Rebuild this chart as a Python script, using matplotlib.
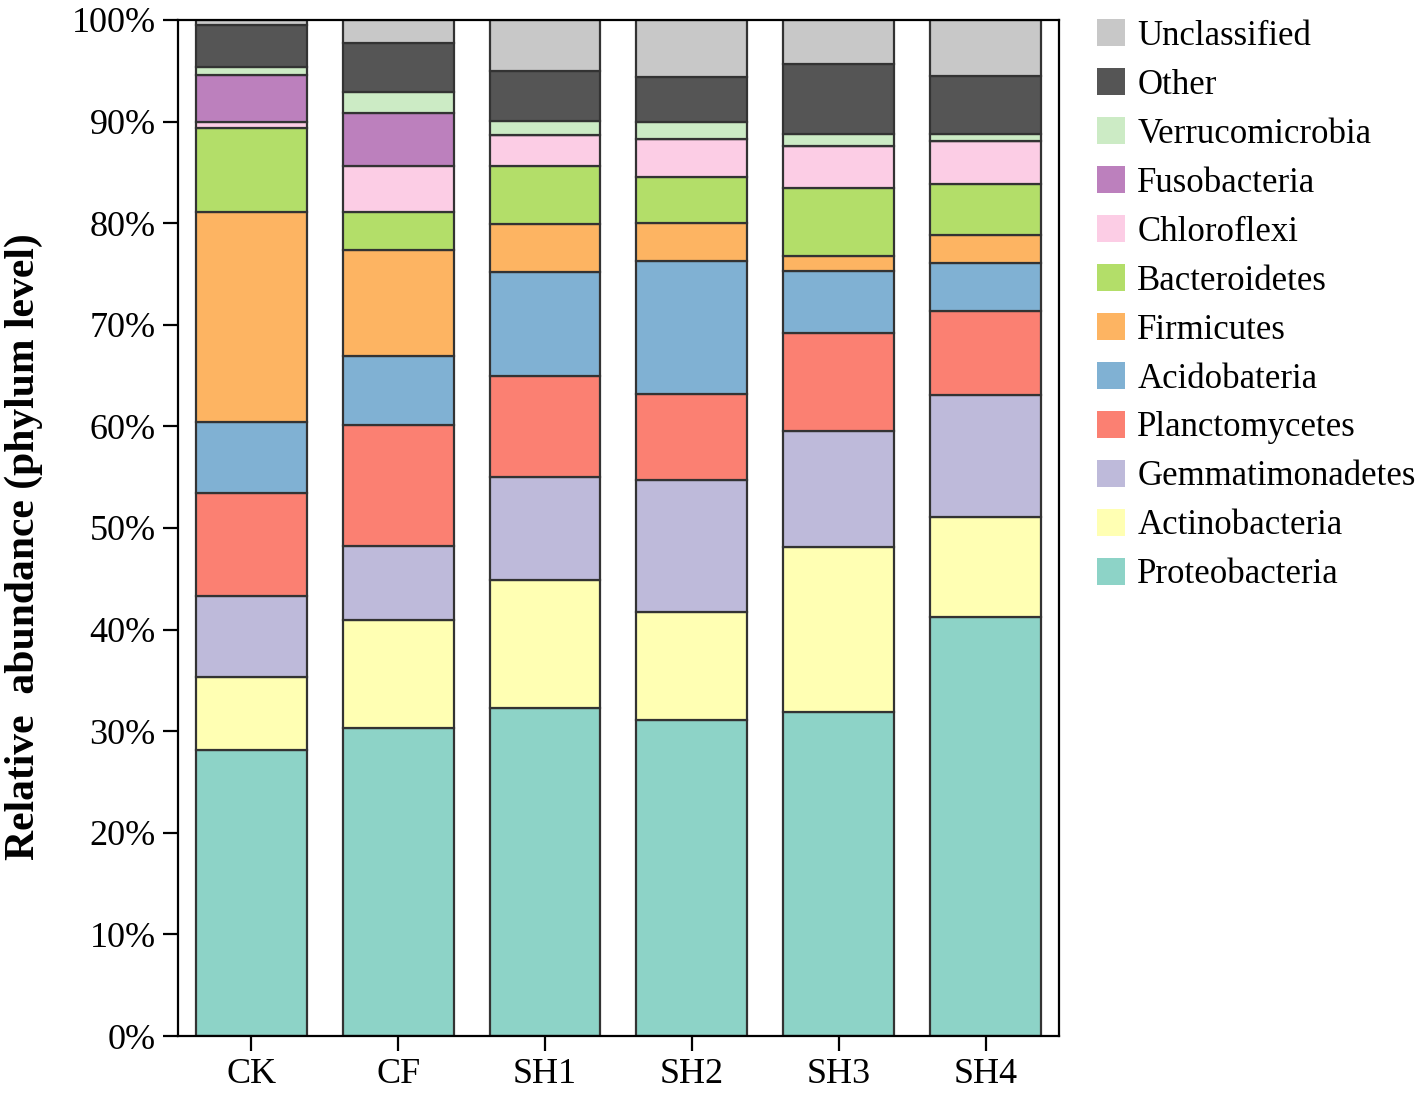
import matplotlib
matplotlib.use("Agg")
import matplotlib.pyplot as plt
import numpy as np
from matplotlib.patches import Patch
from matplotlib.ticker import PercentFormatter

plt.rcParams['font.family'] = ['Liberation Serif', 'DejaVu Serif']

# samples on the x axis
samples = ["CK", "CF", "SH1", "SH2", "SH3", "SH4"]

# relative abundance per phylum (%), bottom to top of the stack
proteobacteria   = [28.1, 30.3, 32.3, 31.1, 31.9, 41.2]
actinobacteria   = [7.2, 10.6, 12.6, 10.6, 16.2, 9.9]
gemmatimonadetes = [8.0, 7.3, 10.1, 13.0, 11.4, 12.0]
planctomycetes   = [10.1, 11.9, 10.0, 8.5, 9.7, 8.3]
acidobateria     = [7.0, 6.8, 10.2, 13.1, 6.1, 4.7]
firmicutes       = [20.7, 10.5, 4.7, 3.7, 1.5, 2.7]
bacteroidetes    = [8.3, 3.7, 5.7, 4.5, 6.7, 5.1]
chloroflexi      = [0.6, 4.5, 3.1, 3.8, 4.1, 4.2]
fusobacteria     = [4.6, 5.2, 0.0, 0.0, 0.0, 0.0]
verrucomicrobia  = [0.8, 2.1, 1.4, 1.7, 1.2, 0.7]
other            = [4.1, 4.8, 4.9, 4.4, 6.9, 5.7]
unclassified     = [0.5, 2.3, 5.0, 5.6, 4.3, 5.5]

phyla = ["Proteobacteria", "Actinobacteria", "Gemmatimonadetes", "Planctomycetes",
         "Acidobateria", "Firmicutes", "Bacteroidetes", "Chloroflexi",
         "Fusobacteria", "Verrucomicrobia", "Other", "Unclassified"]
values = [proteobacteria, actinobacteria, gemmatimonadetes, planctomycetes,
          acidobateria, firmicutes, bacteroidetes, chloroflexi,
          fusobacteria, verrucomicrobia, other, unclassified]
colors = ["#8DD3C7", "#FFFFB3", "#BEBADA", "#FB8072", "#80B1D3", "#FDB462",
          "#B3DE69", "#FCCDE5", "#BC80BD", "#CCEBC5", "#555555", "#C8C8C8"]

fig = plt.figure(figsize=(14.18, 10.97), dpi=100)
ax = fig.add_axes([0.1255, 0.0556, 0.6213, 0.9262])

x = np.arange(len(samples))
bottom = np.zeros(len(samples))
for name, vals, c in zip(phyla, values, colors):
    ax.bar(x, vals, bottom=bottom, width=0.755, color=c,
           edgecolor="#333333", linewidth=1.6, label=name)
    bottom += np.array(vals)

ax.set_xlim(-0.5, 5.5)
ax.set_ylim(0, 100)
ax.set_yticks(np.arange(0, 101, 10))
ax.yaxis.set_major_formatter(PercentFormatter(decimals=0))
ax.set_xticks(x)
ax.set_xticklabels(samples)
ax.tick_params(axis="both", direction="out", length=11, width=1.6,
               labelsize=26, pad=5)
for s in ax.spines.values():
    s.set_linewidth(1.6)

ax.set_ylabel("Relative  abundance (phylum level)", fontsize=30,
              fontweight="bold")
ax.yaxis.set_label_coords(-0.153, 0.482)

handles = [Patch(facecolor=c, edgecolor="none", label=n)
           for n, c in zip(phyla, colors)][::-1]
fig.legend(handles=handles, loc="upper left", bbox_to_anchor=(0.764, 0.995),
           frameon=False, fontsize=25, handlelength=0.8, handleheight=0.8,
           handletextpad=0.35, labelspacing=0.45, borderaxespad=0)

fig.savefig("out.png", dpi=100)
